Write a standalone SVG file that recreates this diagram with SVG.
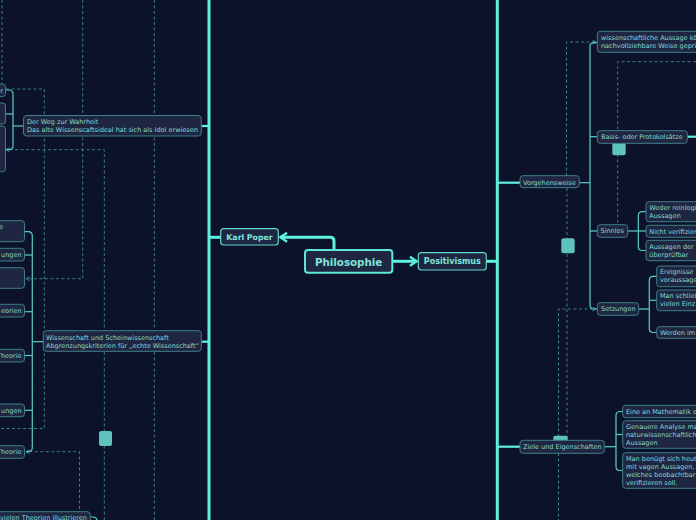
<svg xmlns="http://www.w3.org/2000/svg" width="696" height="520" viewBox="0 0 696 520">
<defs>
<style>
.bg{fill:#0b1229}
.n{fill:#1e2642;stroke:#3f7f86;stroke-width:1}
.m{fill:#1e2642;stroke:#5fd8cc;stroke-width:1.2}
.c{fill:#1e2642;stroke:#5ee6d6;stroke-width:2}
.t{font-family:"DejaVu Sans",sans-serif;font-size:6.5px;fill:#86d8d2}
.e{text-anchor:end}
.b{font-family:"DejaVu Sans",sans-serif;font-weight:bold;fill:#80e4da}
.thick{fill:none;stroke:#5ef2de;stroke-width:3}
.mid{fill:none;stroke:#5ef2de;stroke-width:2.2}
.br{fill:none;stroke:#58cfc5;stroke-width:1.2}
.d{fill:none;stroke:#3b7f88;stroke-width:1;stroke-dasharray:3 2.5}
.sq{fill:#5fc2bd}
</style>
<marker id="ah" viewBox="0 0 10 10" refX="8" refY="5" markerWidth="5" markerHeight="5" orient="auto-start-reverse" markerUnits="userSpaceOnUse">
<path d="M1,1 L8,5 L1,9" fill="none" stroke="#5ef2de" stroke-width="2"/>
</marker>
<marker id="big" viewBox="0 0 12 12" refX="10" refY="6" markerWidth="12" markerHeight="12" orient="auto" markerUnits="userSpaceOnUse">
<path d="M3,1.5 L9.5,6 L3,10.5" fill="none" stroke="#5ef2de" stroke-width="2.4"/>
</marker>
<marker id="da" viewBox="0 0 10 10" refX="8" refY="5" markerWidth="5" markerHeight="5" orient="auto" markerUnits="userSpaceOnUse">
<path d="M1,1 L8,5 L1,9" fill="none" stroke="#5aa9ae" stroke-width="1.6"/>
</marker>
</defs>
<rect class="bg" x="0" y="0" width="696" height="520"/>

<g id="connectors">
<!-- dashed relations left -->
<path class="d" d="M2,0 V84"/>
<path class="d" d="M6,89 H44.3 V428.5 H0"/>
<path class="d" d="M82.7,0 V278.7 H26" marker-end="url(#da)"/>
<path class="d" d="M104.3,520 V149.7 H6" marker-end="url(#da)"/>
<path class="d" d="M154.3,0 V520"/>
<path class="d" d="M79.5,520 V451.7 H26" marker-end="url(#da)"/>
<!-- dashed relations right -->
<path class="d" d="M566.5,176 V42 H596" marker-end="url(#da)"/>
<path class="d" d="M696,61.7 H617.7 V224"/>
<path class="d" d="M567,188 V437"/>
<path class="d" d="M558.5,437 V309 H596" marker-end="url(#da)"/>
<path class="d" d="M558.5,453 V520"/>

<!-- main vertical lines -->
<path class="thick" d="M209,0 V520"/>
<path class="thick" d="M497.3,0 V520"/>
<!-- center -->
<path class="thick" d="M334,250 V241 Q334,237.3 330,237.3 H280" marker-end="url(#big)"/>
<path class="thick" d="M392.3,261.3 H417" marker-end="url(#big)"/>
<path class="thick" d="M220.7,237.3 H209"/>
<path class="thick" d="M486.3,261.3 H497.3"/>
<!-- level 2 -->
<path class="mid" d="M201.3,126 H209"/>
<path class="mid" d="M201.3,341.7 H209"/>
<path class="mid" d="M497.3,182.7 H520"/>
<path class="mid" d="M497.3,446.7 H520"/>
<path class="mid" d="M687.3,136.7 H696"/>
<!-- brackets left -->
<path class="br" d="M23.5,126 H13"/>
<path class="br" d="M5.5,90 H9 Q13,90 13,94 V145.5 Q13,149.7 9,149.7 H6.5"/>
<path class="br" d="M5.5,114 H13"/>
<path class="br" d="M43.3,341.7 H32.3"/>
<path class="br" d="M24.5,231.7 H28 Q32.3,231.7 32.3,236 V447.5 Q32.3,451.7 28,451.7 H26"/>
<path class="br" d="M24.5,255 H32.3"/>
<path class="br" d="M24.5,311.7 H32.3"/>
<path class="br" d="M24.5,355.5 H32.3"/>
<path class="br" d="M24.5,410.3 H32.3"/>
<path class="br" d="M90.3,517 H93 Q97,517 97,521"/>
<!-- brackets right -->
<path class="br" d="M579.3,182.7 H590"/>
<path class="br" d="M597.3,42.7 H594 Q590,42.7 590,46.7 V305 Q590,309 594,309 H597.3"/>
<path class="br" d="M590,136.7 H597.3"/>
<path class="br" d="M590,231 H597.3"/>
<path class="br" d="M627.7,231 H646"/>
<path class="br" d="M646,211.7 H642.3 Q638.3,211.7 638.3,215.7 V246.5 Q638.3,250.5 642.3,250.5 H646"/>
<path class="br" d="M638.7,309 H649.3"/>
<path class="br" d="M656.7,276.3 H653.3 Q649.3,276.3 649.3,280.3 V328.5 Q649.3,332.5 653.3,332.5 H656.7"/>
<path class="br" d="M649.3,300.3 H656.7"/>
<path class="br" d="M604.3,446.7 H616"/>
<path class="br" d="M622.7,411.5 H620 Q616,411.5 616,415.5 V466.5 Q616,470.5 620,470.5 H622.7"/>
<path class="br" d="M616,434.5 H622.7"/>
</g>

<rect class="sq" x="99" y="431" width="13" height="15" rx="2"/>
<rect class="sq" x="612.3" y="142.7" width="13.4" height="12.6" rx="2"/>
<rect class="sq" x="561.3" y="238.3" width="13.4" height="15" rx="2"/>
<rect class="sq" x="553.3" y="435.7" width="14.4" height="12" rx="2"/>

<g id="philosophie">
<rect class="c" x="305" y="250" width="87.3" height="22.7" rx="3"/>
<text class="b" x="348.6" y="265.8" font-size="10.3" text-anchor="middle">Philosophie</text>
</g>
<g id="karl-poper">
<rect class="m" x="220.7" y="228.7" width="57.6" height="16.3" rx="3"/>
<text class="b" x="249.5" y="240" font-size="7.8" text-anchor="middle">Karl Poper</text>
</g>
<g id="positivismus">
<rect class="m" x="418.3" y="252.7" width="68" height="17.3" rx="3"/>
<text class="b" x="452.3" y="264.4" font-size="8" text-anchor="middle">Positivismus</text>
</g>

<!-- left side -->
<g id="weg">
<rect class="n" x="23.5" y="115.5" width="177.8" height="20.5" rx="3"/>
<text class="t" x="27" y="124">Der Weg zur Wahrheit</text>
<text class="t" x="27" y="132">Das alte Wissenscaftsideal hat sich als Idol erwiesen</text>
</g>
<g id="weg-c1"><rect class="n" x="-20" y="84" width="25.5" height="12.6" rx="3"/><text class="t e" x="3" y="92.7">r</text></g>
<g id="weg-c2"><rect class="n" x="-20" y="103" width="25.5" height="21" rx="3"/></g>
<g id="weg-c3"><rect class="n" x="-20" y="126" width="25.5" height="45.7" rx="3"/></g>

<g id="wiss">
<rect class="n" x="43.3" y="330.7" width="158" height="20.6" rx="3"/>
<text class="t" x="46" y="339.5">Wissenschaft und Scheinwissenschaft</text>
<text class="t" x="46" y="347.5">Abgrenzungskriterien für „echte Wissenschaft“</text>
</g>
<g id="wiss-c1"><rect class="n" x="-20" y="220.7" width="44.5" height="21" rx="3"/><text class="t e" x="3" y="229">e</text></g>
<g id="wiss-c2"><rect class="n" x="-20" y="248.3" width="44.5" height="12.7" rx="3"/><text class="t e" x="21.5" y="257">ungen</text></g>
<g id="wiss-c3"><rect class="n" x="-20" y="267.7" width="44.5" height="20.6" rx="3"/></g>
<g id="wiss-c4"><rect class="n" x="-20" y="304.3" width="44.5" height="12.7" rx="3"/><text class="t e" x="21.5" y="313">eorien</text></g>
<g id="wiss-c5"><rect class="n" x="-20" y="349.3" width="44.5" height="12.7" rx="3"/><text class="t e" x="21.5" y="358">Theorie</text></g>
<g id="wiss-c6"><rect class="n" x="-20" y="404" width="44.5" height="12.7" rx="3"/><text class="t e" x="21.5" y="412.7">ungen</text></g>
<g id="wiss-c7"><rect class="n" x="-20" y="445.7" width="44.5" height="12.6" rx="3"/><text class="t e" x="21.5" y="454.3">Theorie</text></g>
<g id="bottom-left"><rect class="n" x="-20" y="511.7" width="110.3" height="20" rx="3"/><text class="t e" x="87" y="519.5">vielen Theorien illustrieren</text></g>

<!-- right side -->
<g id="vorgehensweise">
<rect class="n" x="520" y="175.7" width="59.3" height="12" rx="3"/>
<text class="t" x="523" y="184.5">Vorgehensweise</text>
</g>
<g id="aussage">
<rect class="n" x="597.3" y="31.3" width="130" height="21" rx="3"/>
<text class="t" x="601" y="40">wissenschaftliche Aussage kö</text>
<text class="t" x="601" y="48">nachvollziehbare Weise geprü</text>
</g>
<g id="basis">
<rect class="n" x="597.3" y="130.7" width="90" height="12.6" rx="3"/>
<text class="t" x="601" y="139.4">Basis- oder Protokolsätze</text>
</g>
<g id="sinnlos">
<rect class="n" x="597.3" y="224.7" width="30.4" height="12.6" rx="3"/>
<text class="t" x="600.5" y="233.4">Sinnlos</text>
</g>
<g id="sinnlos-c1"><rect class="n" x="646" y="201.7" width="80" height="20" rx="3"/><text class="t" x="649.3" y="209.6">Weder reinlogi</text><text class="t" x="649.3" y="217.6">Aussagen</text></g>
<g id="sinnlos-c2"><rect class="n" x="646" y="225.3" width="80" height="12" rx="3"/><text class="t" x="649.3" y="233.7">Nicht verifizier</text></g>
<g id="sinnlos-c3"><rect class="n" x="646" y="240.3" width="80" height="20.4" rx="3"/><text class="t" x="649.3" y="248.5">Aussagen der</text><text class="t" x="649.3" y="256.5">überprüfbar</text></g>
<g id="setzungen">
<rect class="n" x="597.3" y="302.7" width="41.4" height="12.6" rx="3"/>
<text class="t" x="601" y="311.4">Setzungen</text>
</g>
<g id="setz-c1"><rect class="n" x="656.7" y="266" width="80" height="20.7" rx="3"/><text class="t" x="660" y="274.3">Ereignisse</text><text class="t" x="660" y="282.3">voraussage</text></g>
<g id="setz-c2"><rect class="n" x="656.7" y="290" width="80" height="20.7" rx="3"/><text class="t" x="660" y="298.3">Man schließt</text><text class="t" x="660" y="306.3">vielen Einz</text></g>
<g id="setz-c3"><rect class="n" x="656.7" y="326.7" width="80" height="11.6" rx="3"/><text class="t" x="660" y="334.8">Werden im</text></g>

<g id="ziele">
<rect class="n" x="520" y="440.3" width="84.3" height="13" rx="3"/>
<text class="t" x="523" y="449.4">Ziele und Eigenschaften</text>
</g>
<g id="ziele-c1"><rect class="n" x="622.7" y="405.3" width="100" height="12.4" rx="3"/><text class="t" x="626" y="413.8">Eine an Mathematik o</text></g>
<g id="ziele-c2"><rect class="n" x="622.7" y="420.7" width="100" height="27.6" rx="3"/><text class="t" x="626" y="428.9">Genauere Analyse ma</text><text class="t" x="626" y="436.9">naturwissenschaftlich</text><text class="t" x="626" y="444.9">Aussagen</text></g>
<g id="ziele-c3"><rect class="n" x="622.7" y="452.7" width="100" height="35.6" rx="3"/><text class="t" x="626" y="460.6">Man benügt sich heut</text><text class="t" x="626" y="468.7">mit vagen Aussagen,</text><text class="t" x="626" y="476.8">welches beobachtbar</text><text class="t" x="626" y="484.9">verifizieren soll.</text></g>
</svg>
